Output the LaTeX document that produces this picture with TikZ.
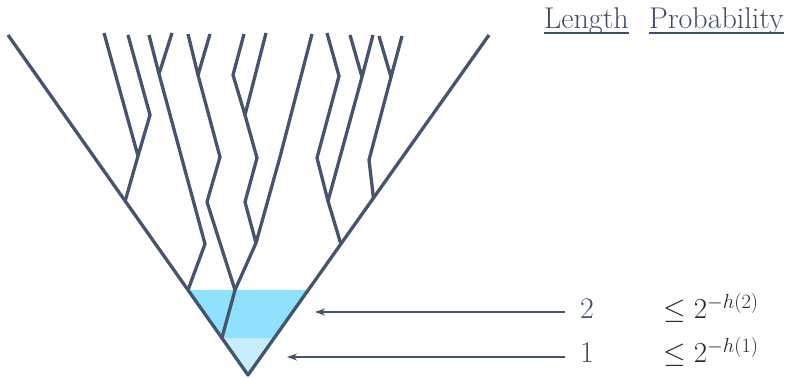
\RequirePackage{fix-cm}
\documentclass[tikz,border=0pt]{standalone}
\usetikzlibrary{arrows.meta,calc}
\definecolor{slate}{RGB}{70,84,110}
\definecolor{labelink}{RGB}{62,78,108}
\definecolor{band}{RGB}{143,225,252}
\definecolor{bandlight}{RGB}{200,238,252}

\begin{document}
\begin{tikzpicture}[x=1pt,y=-1pt,
  branch/.style={draw=slate,line width=3.3pt,line join=round,line cap=butt},
  pointer/.style={draw=slate,line width=1.3pt,-{Stealth[length=10pt,width=7pt,inset=3pt]}},
  head/.style={inner sep=0pt,text=labelink,font=\fontsize{30}{36}\selectfont},
  txt/.style={inner sep=0pt,text=labelink,font=\fontsize{30}{36}\selectfont},
  mathtxt/.style={inner sep=0pt,text=black!85,font=\fontsize{29}{35}\selectfont},
  uline/.style={draw=labelink,line width=1.2pt}]
\useasboundingbox (0,0) rectangle (785,379);

% outer frame of the tree
\coordinate (root) at (248,375);
\coordinate (tl) at (8,35);
\coordinate (tr) at (489,35);
\coordinate (jL1) at ($(root)!0.1088!(tl)$);
\coordinate (jL2) at ($(root)!0.25!(tl)$);
\coordinate (jL5) at ($(root)!0.5118!(tl)$);
\coordinate (jR1) at ($(root)!0.1088!(tr)$);
\coordinate (jR2) at ($(root)!0.25!(tr)$);
\coordinate (jR3) at ($(root)!0.3853!(tr)$);
\coordinate (jR4) at ($(root)!0.5206!(tr)$);

% shaded levels
\fill[bandlight] (root) -- (jL1) -- (jR1) -- cycle;
\fill[band] (jL1) -- (jL2) -- (jR2) -- (jR1) -- cycle;

% left branches
\coordinate (a0) at (104,33);
\coordinate (b0) at (128,35);
\coordinate (b1) at (150,115);
\coordinate (ab) at (138,156);
\coordinate (c0) at (149,35);
\coordinate (d0) at (172,33);
\coordinate (cd) at (159,74);
\coordinate (cd1) at (205,244);
\coordinate (e0) at (188,34);
\coordinate (f0) at (210,34);
\coordinate (ef) at (198,75);
\coordinate (ef1) at (220,157);
\coordinate (ef2) at (207,202);
\coordinate (m1) at (235,290);
\coordinate (g0) at (244,34);
\coordinate (g1) at (233,75);
\coordinate (h0) at (266,33);
\coordinate (gh) at (245,115);
\coordinate (gh1) at (257,158);
\coordinate (gh2) at (245,202);
\coordinate (ghi) at (256,243);
\coordinate (i0) at (312,34);
\coordinate (i1) at (280,157);

% right branches
\coordinate (j0) at (327,33);
\coordinate (j1) at (339,76);
\coordinate (j2) at (317,158);
\coordinate (jkl) at (328,201);
\coordinate (k0) at (350,35);
\coordinate (l0) at (373,35);
\coordinate (kl) at (362,77);
\coordinate (m0) at (379,36);
\coordinate (n0) at (402,36);
\coordinate (mn) at (391,77);
\coordinate (mn1) at (369,160);

\draw[branch] (tl) -- (root) -- (tr);
\draw[branch] (a0) -- (ab);
\draw[branch] (b0) -- (b1) -- (ab) -- (jL5);
\draw[branch] (c0) -- (cd);
\draw[branch] (d0) -- (cd) -- (cd1) -- (jL2);
\draw[branch] (e0) -- (ef);
\draw[branch] (f0) -- (ef) -- (ef1) -- (ef2) -- (m1);
\draw[branch] (g0) -- (g1) -- (gh);
\draw[branch] (h0) -- (gh) -- (gh1) -- (gh2) -- (ghi);
\draw[branch] (i0) -- (i1) -- (ghi) -- (m1) -- (jL1);
\draw[branch] (j0) -- (j1) -- (j2) -- (jkl);
\draw[branch] (k0) -- (kl);
\draw[branch] (l0) -- (kl) -- (jkl) -- (jR3);
\draw[branch] (m0) -- (mn);
\draw[branch] (n0) -- (mn) -- (mn1) -- (jR4);

% column headings
\node[head,anchor=base west] (len) at (544,29) {Length};
\node[head,anchor=base west] (prob) at (649,29) {Probability};
\draw[uline] ([yshift=-4pt]len.base west) -- ([yshift=-4pt]len.base east);
\draw[uline] ([yshift=-4pt]prob.base west) -- ([yshift=-4pt]prob.base east);

% level labels and pointers
\node[txt,anchor=base] (lab2) at (587,319) {2};
\node[txt,anchor=base] (lab1) at (587,363) {1};
\node[mathtxt,anchor=base west] (p2) at (663,319) {$\leq 2^{-h(2)}$};
\node[mathtxt,anchor=base west] (p1) at (663,363) {$\leq 2^{-h(1)}$};
\coordinate (s2) at (565,312);
\coordinate (e2) at (315,312);
\coordinate (s1) at (565,357);
\coordinate (e1) at (287,357);
\draw[pointer] (s2) -- (e2);
\draw[pointer] (s1) -- (e1);
\end{tikzpicture}
\end{document}
